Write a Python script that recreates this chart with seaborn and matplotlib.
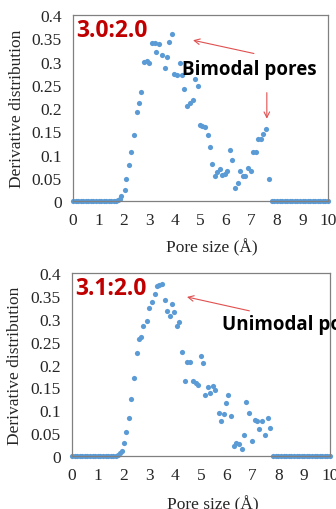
import pandas as pd
import seaborn as sns
import matplotlib.pyplot as plt

# Dados
zero_left = [0.0, 0.1, 0.2, 0.3, 0.4, 0.5, 0.6, 0.7, 0.8, 0.9, 1.0, 1.1, 1.2,
             1.3, 1.4, 1.5, 1.6, 1.7]
zero_right = [7.8, 7.9, 8.0, 8.1, 8.2, 8.3, 8.4, 8.5, 8.6, 8.7, 8.8, 8.9, 9.0,
              9.1, 9.2, 9.3, 9.4, 9.5, 9.6, 9.7, 9.8, 9.9, 10.0]

# 3.0:2.0
x_bi = [1.76, 1.83, 1.90, 2.03, 2.09, 2.18, 2.29, 2.41, 2.51, 2.60, 2.67, 2.77,
        2.90, 2.98, 3.11, 3.20, 3.27, 3.36, 3.49, 3.60, 3.69, 3.75, 3.88, 3.97,
        4.09, 4.18, 4.27, 4.37, 4.46, 4.58, 4.69, 4.77, 4.89, 4.97, 5.06, 5.18,
        5.28, 5.39, 5.45, 5.56, 5.66, 5.75, 5.84, 5.95, 6.05, 6.14, 6.25, 6.37,
        6.47, 6.56, 6.65, 6.75, 6.86, 6.97, 7.07, 7.16, 7.27, 7.37, 7.45, 7.56,
        7.67]
y_bi = [0.002, 0.004, 0.010, 0.024, 0.047, 0.078, 0.105, 0.143, 0.192, 0.210,
        0.234, 0.300, 0.302, 0.297, 0.340, 0.340, 0.321, 0.338, 0.315, 0.287,
        0.309, 0.343, 0.359, 0.273, 0.272, 0.296, 0.272, 0.241, 0.205, 0.211,
        0.217, 0.262, 0.247, 0.164, 0.162, 0.159, 0.142, 0.117, 0.080, 0.054,
        0.062, 0.069, 0.057, 0.058, 0.065, 0.110, 0.089, 0.029, 0.038, 0.065,
        0.054, 0.054, 0.071, 0.065, 0.106, 0.106, 0.133, 0.133, 0.145, 0.155,
        0.047]

# 3.1:2.0
x_uni = [1.78, 1.85, 1.92, 2.00, 2.08, 2.19, 2.28, 2.39, 2.50, 2.61, 2.68, 2.77,
         2.89, 2.98, 3.10, 3.20, 3.28, 3.38, 3.48, 3.59, 3.68, 3.78, 3.87, 3.96,
         4.05, 4.15, 4.28, 4.37, 4.44, 4.57, 4.70, 4.81, 4.89, 4.98, 5.07, 5.16,
         5.26, 5.35, 5.46, 5.55, 5.68, 5.78, 5.88, 5.97, 6.06, 6.17, 6.26, 6.36,
         6.48, 6.58, 6.65, 6.76, 6.87, 6.98, 7.08, 7.16, 7.26, 7.37, 7.48, 7.59,
         7.68]
y_uni = [0.002, 0.006, 0.012, 0.028, 0.052, 0.084, 0.125, 0.171, 0.226, 0.255,
         0.261, 0.285, 0.295, 0.323, 0.336, 0.354, 0.372, 0.374, 0.377, 0.342,
         0.316, 0.307, 0.333, 0.314, 0.285, 0.293, 0.227, 0.164, 0.205, 0.205,
         0.165, 0.160, 0.156, 0.218, 0.203, 0.134, 0.150, 0.138, 0.154, 0.145,
         0.094, 0.076, 0.092, 0.116, 0.133, 0.087, 0.022, 0.028, 0.027, 0.016,
         0.047, 0.117, 0.095, 0.033, 0.079, 0.076, 0.060, 0.076, 0.047, 0.082,
         0.062]

x_ticks = [0, 1, 2, 3, 4, 5, 6, 7, 8, 9, 10]
y_ticks = [0, 0.05, 0.1, 0.15, 0.2, 0.25, 0.3, 0.35, 0.4]
y_tick_labels = ['0', '0.05', '0.1', '0.15', '0.2', '0.25', '0.3', '0.35', '0.4']

azul = '#5B9BD5'
vermelho = '#C00000'
seta = '#E05050'

sns.set_style('white')
plt.rcParams['font.family'] = ['Liberation Serif', 'DejaVu Serif']


def painel(ax, xs, ys, rotulo, texto, tx, ty, setas, xlab_y):
    zeros = [0.0] * (len(zero_left) + len(zero_right))
    base = pd.DataFrame({'x': zero_left + zero_right + xs, 'y': zeros + ys})
    sns.scatterplot(data=base, x='x', y='y', ax=ax, color=azul, s=14,
                    linewidth=0, clip_on=False)
    ax.set_xlim(0, 10)
    ax.set_ylim(0, 0.4)
    ax.set_xticks(x_ticks)
    ax.set_yticks(y_ticks)
    ax.set_yticklabels(y_tick_labels)
    ax.tick_params(direction='in', length=3, color='#808080', labelsize=12.5,
                   pad=8)
    for sp in ax.spines.values():
        sp.set_color('#808080')
        sp.set_linewidth(0.9)
    ax.set_xlabel('Pore size (Å)', fontsize=12.5)
    ax.set_ylabel('Derivative distribution', fontsize=12.5)
    ax.xaxis.set_label_coords(0.545, xlab_y)
    ax.yaxis.set_label_coords(-0.19, 0.5)
    ax.text(0.12, 0.368, rotulo, color=vermelho, fontsize=16.5,
            fontweight='bold', family='Open Sans', va='center')
    ax.text(tx, ty, texto, color='black', fontsize=13.5, fontweight='bold',
            family='Open Sans', va='center', clip_on=False)
    for (x0, y0, x1, y1) in setas:
        ax.annotate('', xy=(x1, y1), xytext=(x0, y0),
                    arrowprops=dict(arrowstyle='->', color=seta, lw=0.8))


fig = plt.figure(figsize=(3.36, 5.10), dpi=100)
ax1 = fig.add_axes([0.2173, 0.6039, 0.759, 0.3647])
ax2 = fig.add_axes([0.2143, 0.1039, 0.768, 0.3588])

painel(ax1, x_bi, y_bi, '3.0:2.0', 'Bimodal pores', 4.28, 0.284,
       [(7.2, 0.316, 4.6, 0.347), (7.6, 0.239, 7.6, 0.171)], -0.2)
painel(ax2, x_uni, y_uni, '3.1:2.0', 'Unimodal pores', 5.8, 0.289,
       [(6.98, 0.316, 4.35, 0.349)], -0.215)

fig.savefig('out.png', dpi=100)
